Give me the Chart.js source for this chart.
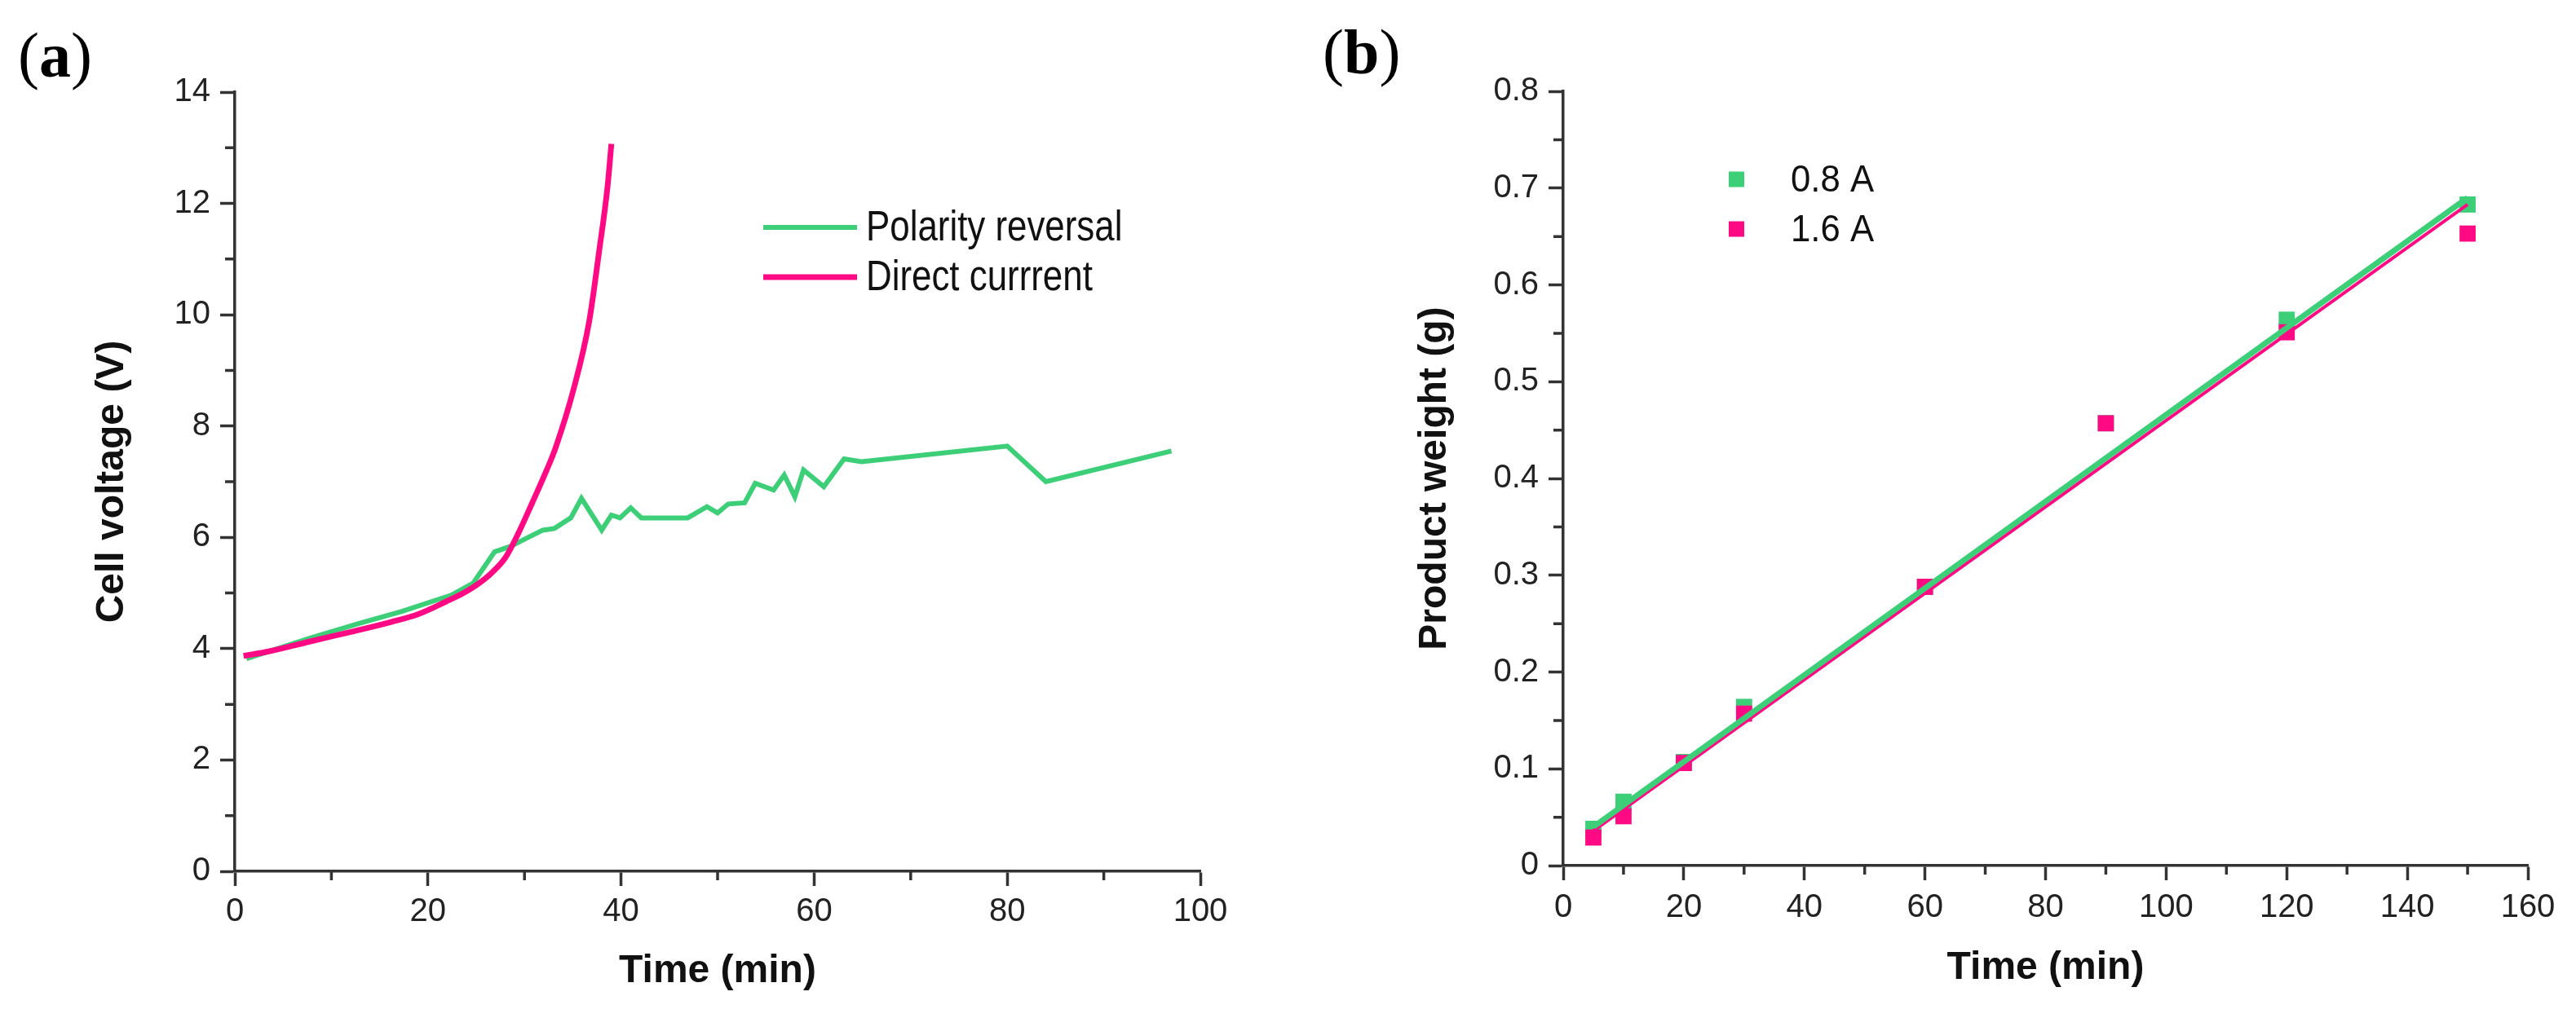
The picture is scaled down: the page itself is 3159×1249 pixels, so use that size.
<!DOCTYPE html>
<html>
<head>
<meta charset="utf-8">
<script src="https://cdn.jsdelivr.net/npm/chart.js@4.4.1/dist/chart.umd.min.js"></script>
<style>
  body { margin: 0; background: #fff; }
  #page { position: relative; width: 3159px; height: 1249px; overflow: hidden; }
  canvas { position: absolute; top: 0; }
  .tag { position: absolute; font-family: 'Liberation Serif', 'Times New Roman', serif; font-size: 78px; line-height: 78px; color: #000; }
  .tag b { font-weight: bold; }
</style>
</head>
<body>
<div id="page">
  <div class="tag" style="left:22px; top:29px;">(<b>a</b>)</div>
  <div class="tag" style="left:1622px; top:25px;">(<b>b</b>)</div>
  <canvas id="chartA" width="1580" height="1249" style="left:0;"></canvas>
  <canvas id="chartB" width="1579" height="1249" style="left:1580px;"></canvas>
</div>
<script>
// panel (a): cell voltage vs time
const polarityTime = [1.2, 7.8, 12.8, 17.3, 22.4, 24.7, 26.9, 28.6, 29.7, 31.9, 33.1, 34.8, 35.9, 38.0, 39.0, 39.9, 41.0, 42.1, 46.9, 48.9, 50.0, 51.1, 52.8, 53.9, 55.8, 56.9, 58.0, 58.9, 61.0, 63.1, 64.9, 80.0, 84.0, 97.0];
const polarityVolt = [3.82, 4.19, 4.45, 4.67, 4.96, 5.18, 5.74, 5.84, 5.94, 6.13, 6.16, 6.35, 6.70, 6.13, 6.40, 6.35, 6.53, 6.35, 6.35, 6.55, 6.44, 6.60, 6.62, 6.97, 6.85, 7.12, 6.73, 7.21, 6.91, 7.41, 7.36, 7.64, 7.00, 7.55];
const directTime = [0.9, 3.5, 7.8, 12.0, 16.2, 19.0, 21.8, 24.1, 26.4, 28.0, 29.3, 30.8, 32.3, 33.2, 35.1, 36.7, 37.7, 38.6, 39.0];
const directVolt = [3.87, 3.95, 4.13, 4.30, 4.48, 4.62, 4.84, 5.04, 5.33, 5.63, 6.05, 6.62, 7.21, 7.60, 8.67, 9.88, 11.1, 12.3, 13.07];

const aMinorX = [10, 30, 50, 70, 90];
const aMinorY = [1, 3, 5, 7, 9, 11, 13];

// panel (b): product weight vs time
const sampleTime = [5, 10, 20, 30, 60, 90, 120, 150];
const weight08 = [0.038, 0.066, 0.107, 0.164, 0.288, 0.457, 0.564, 0.683];
const weight16 = [0.029, 0.051, 0.106, 0.157, 0.288, 0.457, 0.551, 0.653];
const fitTime = [5, 150];
const fit08 = [0.040, 0.690];
const fit16 = [0.036, 0.683];

const bMinorX = [10, 30, 50, 70, 90, 110, 130, 150];
const bMinorY = [0.05, 0.15, 0.25, 0.35, 0.45, 0.55, 0.65, 0.75];

const GREEN = '#3ccf78';
const PINK = '#ff0a84';
const AXIS = '#333';
const SANS = "'Liberation Sans', Arial, sans-serif";

const pts = (xs, ys) => xs.map((x, i) => ({ x: x, y: ys[i] }));

// small outward minor ticks + hand-placed legend, like the origin plot
const extras = {
  id: 'extras',
  afterDraw(chart, args, o) {
    const ctx = chart.ctx;
    const xs = chart.scales.x, ys = chart.scales.y;
    const area = chart.chartArea;
    ctx.save();
    ctx.strokeStyle = AXIS;
    ctx.lineWidth = 3.5;
    ctx.beginPath();
    o.minorX.forEach(v => {
      const px = xs.getPixelForValue(v);
      ctx.moveTo(px, area.bottom);
      ctx.lineTo(px, area.bottom + 11);
    });
    o.minorY.forEach(v => {
      const py = ys.getPixelForValue(v);
      ctx.moveTo(area.left, py);
      ctx.lineTo(area.left - 12, py);
    });
    ctx.stroke();

    ctx.font = o.legendFont;
    ctx.textBaseline = 'middle';
    o.legend.forEach(it => {
      if (it.kind === 'line') {
        ctx.strokeStyle = it.color;
        ctx.lineWidth = it.width;
        ctx.beginPath();
        ctx.moveTo(it.x0, it.y);
        ctx.lineTo(it.x1, it.y);
        ctx.stroke();
      } else {
        ctx.fillStyle = it.color;
        ctx.fillRect(it.x0, it.y - it.size / 2, it.size, it.size);
      }
      // the source figure uses a slightly narrow face
      ctx.save();
      ctx.translate(it.tx, it.y + 2);
      ctx.scale(o.squeeze, 1);
      ctx.fillStyle = '#111';
      ctx.fillText(it.text, 0, 0);
      ctx.restore();
    });
    ctx.restore();
  }
};

function axis(min, max, step, fixed, title, titlePad, tickFmt, tickPad) {
  return {
    type: 'linear',
    min: min,
    max: max,
    afterFit: s => { if (s.isHorizontal()) s.height = fixed; else s.width = fixed; },
    ticks: {
      stepSize: step,
      color: '#222',
      padding: tickPad,
      font: { family: SANS, size: 40 },
      callback: tickFmt
    },
    grid: {
      drawOnChartArea: false,
      drawTicks: true,
      tickLength: 18,
      tickWidth: 3.5,
      tickColor: AXIS
    },
    border: { display: true, color: AXIS, width: 3.5 },
    title: {
      display: true,
      text: title,
      color: '#111',
      padding: titlePad,
      font: { family: SANS, size: 48, weight: 'bold', lineHeight: 1.2 }
    }
  };
}

const plain = v => String(v);
const oneDec = v => (v === 0 ? '0' : v.toFixed(1));

new Chart(document.getElementById('chartA'), {
  type: 'line',
  data: {
    datasets: [
      {
        label: 'Polarity reversal',
        data: pts(polarityTime, polarityVolt),
        borderColor: GREEN,
        borderWidth: 6,
        pointRadius: 0,
        tension: 0,
        order: 1
      },
      {
        label: 'Direct currrent',
        data: pts(directTime, directVolt),
        borderColor: PINK,
        borderWidth: 7,
        pointRadius: 0,
        cubicInterpolationMode: 'monotone',
        order: 0
      }
    ]
  },
  options: {
    responsive: false,
    animation: false,
    devicePixelRatio: 1,
    layout: { padding: { left: 0, top: 113, right: 108, bottom: 0 } },
    scales: {
      x: axis(0, 100, 20, 180, 'Time (min)', { top: 0, bottom: 28 }, plain, 8),
      y: axis(0, 14, 2, 288, 'Cell voltage (V)', { top: 109, bottom: 0 }, plain, 12)
    },
    plugins: {
      legend: { display: false },
      tooltip: { enabled: false },
      extras: {
        minorX: aMinorX,
        minorY: aMinorY,
        legendFont: '51px ' + SANS,
        squeeze: 0.86,
        legend: [
          { kind: 'line', color: GREEN, width: 6, x0: 936, x1: 1051, y: 279, tx: 1062, text: 'Polarity reversal' },
          { kind: 'line', color: PINK, width: 7, x0: 936, x1: 1051, y: 340, tx: 1062, text: 'Direct currrent' }
        ]
      }
    }
  },
  plugins: [extras]
});

new Chart(document.getElementById('chartB'), {
  type: 'scatter',
  data: {
    datasets: [
      {
        type: 'line',
        label: '0.8 A fit',
        data: pts(fitTime, fit08),
        borderColor: GREEN,
        borderWidth: 7,
        pointRadius: 0,
        order: 0
      },
      {
        type: 'line',
        label: '1.6 A fit',
        data: pts(fitTime, fit16),
        borderColor: PINK,
        borderWidth: 4,
        pointRadius: 0,
        order: 1
      },
      {
        label: '1.6 A',
        data: pts(sampleTime, weight16),
        pointStyle: 'rect',
        pointRadius: 14,
        backgroundColor: PINK,
        borderWidth: 0,
        order: 2
      },
      {
        label: '0.8 A',
        data: pts(sampleTime, weight08),
        pointStyle: 'rect',
        pointRadius: 14,
        backgroundColor: GREEN,
        borderWidth: 0,
        order: 3
      }
    ]
  },
  options: {
    responsive: false,
    animation: false,
    devicePixelRatio: 1,
    layout: { padding: { left: 0, top: 112, right: 59, bottom: 0 } },
    scales: {
      x: axis(0, 160, 20, 187, 'Time (min)', { top: 0, bottom: 32 }, plain, 10),
      y: axis(0, 0.8, 0.1, 337, 'Product weight (g)', { top: 151, bottom: 0 }, oneDec, 12)
    },
    plugins: {
      legend: { display: false },
      tooltip: { enabled: false },
      extras: {
        minorX: bMinorX,
        minorY: bMinorY,
        legendFont: '46px ' + SANS,
        squeeze: 0.95,
        legend: [
          { kind: 'rect', color: GREEN, size: 19, x0: 540, y: 220, tx: 616, text: '0.8 A' },
          { kind: 'rect', color: PINK, size: 19, x0: 540, y: 281, tx: 616, text: '1.6 A' }
        ]
      }
    }
  },
  plugins: [extras]
});
</script>
</body>
</html>
